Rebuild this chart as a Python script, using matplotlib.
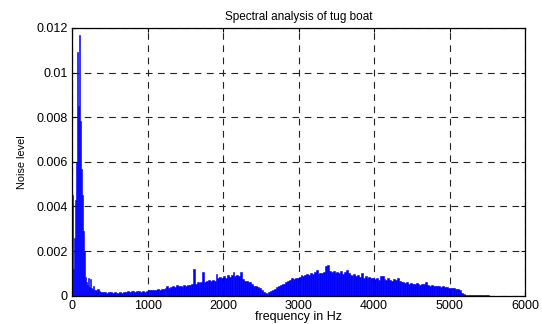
# Spectral analysis of tug boat noise - MATLAB-style spectrum plot
import numpy as np
import matplotlib
matplotlib.use('Agg')
import matplotlib.pyplot as plt

plt.rcParams['font.family'] = ['Liberation Sans', 'DejaVu Sans']

# Low band (0-292 Hz), one value per ~13 Hz, level in units of 1e-3
low_freq = [0, 13, 27, 40, 53, 66, 80, 93, 106, 120, 133, 146, 159, 173,
            186, 199, 212, 226, 239, 252, 265, 279, 292]
low_level = [4.5, 1.2, 2.6, 4.3, 6.0, 10.9, 8.5, 11.7, 7.85, 5.7, 4.5, 2.9,
             2.0, 0.85, 0.6, 0.5, 0.78, 0.4, 0.75, 0.35, 0.3, 0.45, 0.25]

# Main band from 300 Hz in 25 Hz steps, level in units of 1e-3
main_start = 300
main_step = 25
main_level = [
    0.25, 0.3, 0.2, 0.18,   0.15, 0.17, 0.14, 0.16,   0.15, 0.13, 0.16, 0.14,
    0.12, 0.15, 0.13, 0.16,  0.18, 0.2, 0.17, 0.22,   0.21, 0.19, 0.23, 0.2,
    0.18, 0.2, 0.17, 0.22,   0.26, 0.24, 0.28, 0.25,  0.27, 0.3, 0.26, 0.29,
    0.32, 0.35, 0.42, 0.36,  0.4, 0.45, 0.38, 0.47,   0.42, 0.46, 0.4, 0.48,
    0.45, 0.5, 0.47, 0.52,   1.18, 0.55, 0.6, 0.58,   0.63, 1.08, 0.62, 0.68,
    0.7, 0.66, 0.72, 0.68,   0.97, 0.8, 0.85, 0.78,   0.9, 0.82, 0.95, 0.86,
    0.93, 1.05, 0.9, 0.95,   0.88, 1.08, 0.75, 0.68,  0.65, 0.6, 0.63, 0.55,
    0.45, 0.43, 0.4, 0.35,   0.25, 0.18, 0.12, 0.1,   0.15, 0.2, 0.25, 0.3,
    0.38, 0.42, 0.5, 0.55,   0.55, 0.6, 0.68, 0.72,   0.78, 0.75, 0.82, 0.8,
    0.85, 0.92, 0.88, 0.95,  0.98, 0.92, 1.0, 0.96,   1.05, 1.15, 0.98, 1.02,
    1.0, 1.08, 1.35, 1.38,   1.1, 1.05, 1.12, 1.0,    1.08, 1.02, 1.1, 0.98,
    1.05, 1.15, 1.0, 0.95,   0.9, 0.98, 0.88, 0.95,   0.85, 1.0, 0.82, 0.88,
    0.8, 0.85, 0.78, 0.82,   0.75, 0.8, 0.72, 0.88,   0.9, 0.75, 0.7, 0.78,
    0.72, 0.68, 0.75, 0.7,   0.82, 0.68, 0.62, 0.6,   0.58, 0.62, 0.55, 0.57,
    0.55, 0.52, 0.58, 0.53,  0.5, 0.55, 0.52, 0.63,   0.48, 0.45, 0.47, 0.43,
    0.45, 0.42, 0.44, 0.4,   0.42, 0.38, 0.4, 0.36,   0.35, 0.33, 0.34, 0.31,
    0.3, 0.25, 0.12, 0.06,   0.05, 0.045, 0.045, 0.045,
    0.045, 0.045, 0.045, 0.045,  0.045, 0.045, 0.045, 0.045,
    0.04, 0.01, 0.01, 0.01,
    0.01, 0.01, 0.01, 0.01,  0.01, 0.01, 0.01, 0.01,
    0.01, 0.01, 0.01, 0.01,  0.01, 0.01, 0.01, 0.01,
]

xticks = [0, 1000, 2000, 3000, 4000, 5000, 6000]
yticks = [0, 0.002, 0.004, 0.006, 0.008, 0.01, 0.012]
ytick_labels = ['0', '0.002', '0.004', '0.006', '0.008', '0.01', '0.012']

main_freq = main_start + main_step * np.arange(len(main_level))

fig = plt.figure(figsize=(5.42, 3.24), dpi=100)
ax = fig.add_axes([0.133, 0.087, 0.836, 0.827])

blue = (0, 0, 1)
ax.bar(low_freq, np.array(low_level) * 1e-3, width=13.3, align='edge',
       color=blue, edgecolor=blue, linewidth=0.4, zorder=3)
ax.bar(main_freq, np.array(main_level) * 1e-3, width=main_step, align='edge',
       color=blue, edgecolor=blue, linewidth=0.4, zorder=3)

ax.set_xlim(0, 6000)
ax.set_ylim(0, 0.012)
ax.set_xticks(xticks)
ax.set_xticklabels([str(t) for t in xticks])
ax.set_yticks(yticks)
ax.set_yticklabels(ytick_labels)

ax.grid(True, color='#222222', linestyle=(0, (6, 5)), linewidth=0.8, zorder=1)
ax.set_axisbelow(True)
ax.tick_params(direction='in', top=True, right=True, labelsize=9,
               length=3, width=0.8, pad=3)
for s in ax.spines.values():
    s.set_linewidth(0.9)
    s.set_zorder(4)

ax.set_title('Spectral analysis of tug boat', fontsize=8.5, pad=6)
ax.set_xlabel('frequency in Hz', fontsize=9, labelpad=-1)
ax.set_ylabel('Noise level', fontsize=7.8, labelpad=7)

fig.savefig('out.png', dpi=100)
